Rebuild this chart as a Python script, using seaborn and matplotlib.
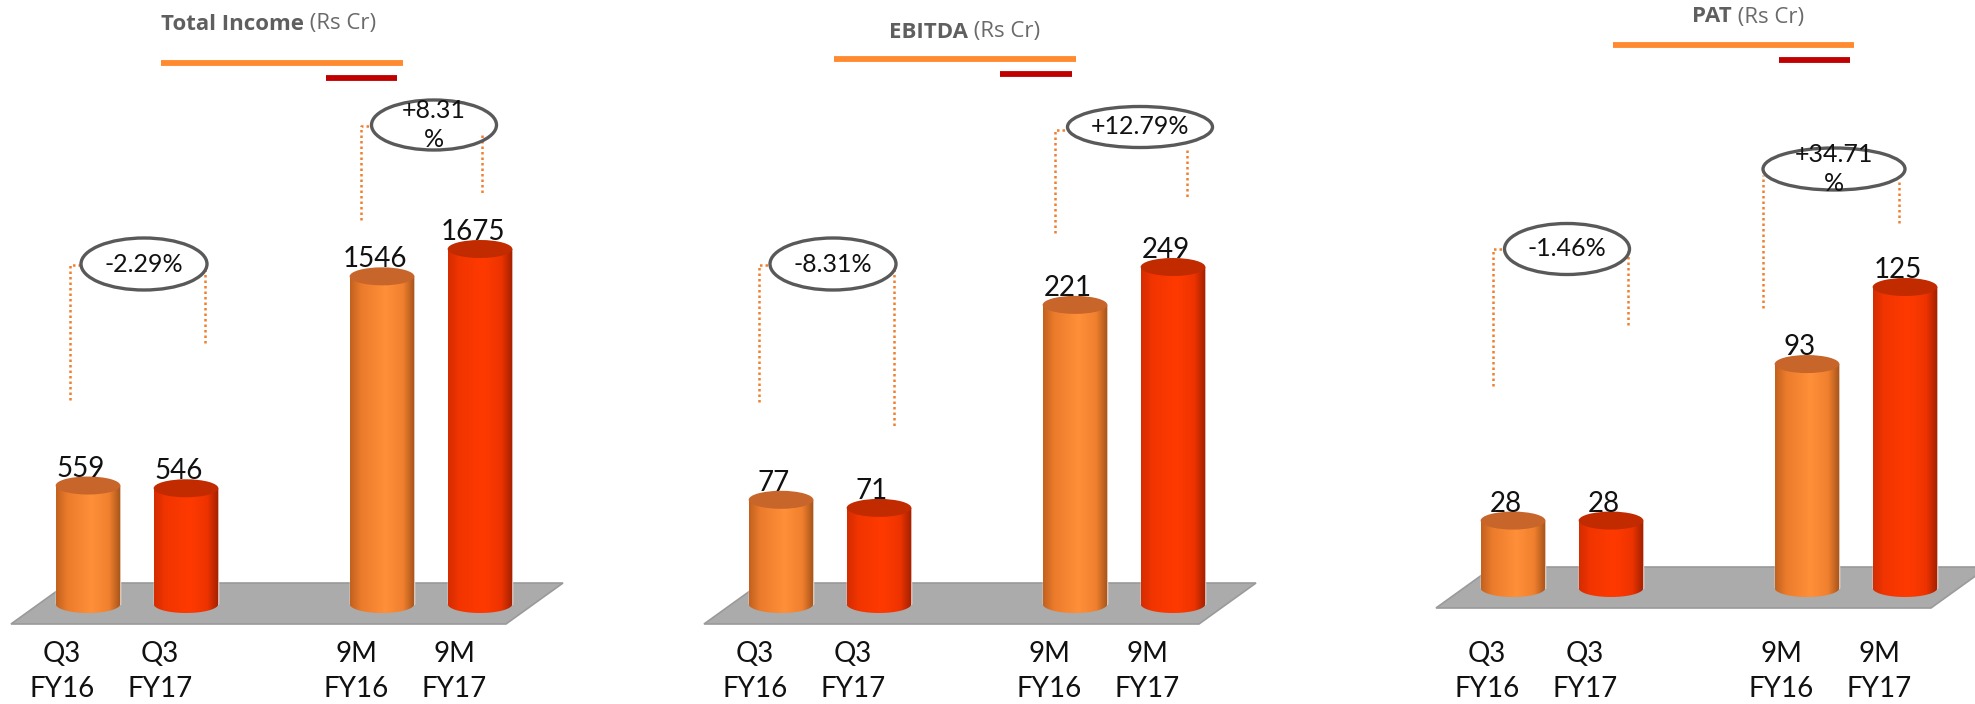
import numpy as np
import pandas as pd
import matplotlib
matplotlib.use("Agg")
import matplotlib.pyplot as plt
import matplotlib.transforms as mtransforms
from matplotlib.patches import Ellipse, Polygon
from matplotlib.lines import Line2D
from matplotlib.colors import LinearSegmentedColormap
import seaborn as sns

# ---------------- data ----------------
periods = ["Q3\nFY16", "Q3\nFY17", "9M\nFY16", "9M\nFY17"]
total_income = [559, 546, 1546, 1675]
ebitda = [77, 71, 221, 249]
pat = [28, 28, 93, 125]
metric_names = ["Total Income", "EBITDA", "PAT"]
unit_label = " (Rs Cr)"
q3_growth = ["-2.29%", "-8.31%", "-1.46%"]
nm_growth = ["+8.31\n%", "+12.79%", "+34.71\n%"]

series = [total_income, ebitda, pat]

# ---------------- style ----------------
sns.set_theme(style="white")
plt.rcParams["font.family"] = ["Lato", "DejaVu Sans"]

W, H = 1975, 704
fig = plt.figure(figsize=(W / 100, H / 100), dpi=100)
px = mtransforms.Affine2D().scale(1 / W, -1 / H).translate(0, 1) + fig.transFigure

palette = {"FY16": "#FF8A30", "FY17": "#FF3300"}
cmaps = {
    "FY16": LinearSegmentedColormap.from_list(
        "o", [(0, "#C2611E"), (0.18, "#EC7C2C"), (0.55, "#FF8F38"), (0.82, "#F0802E"), (1, "#A4521A")]),
    "FY17": LinearSegmentedColormap.from_list(
        "r", [(0, "#D42C00"), (0.18, "#F23500"), (0.55, "#FF3A00"), (0.82, "#EE3300"), (1, "#A02000")]),
}
top_colors = {"FY16": "#C7652A", "FY17": "#C22A00"}

order = [periods[0], periods[1], "", periods[2], periods[3]]

# per-panel layout (pixels)
unit_px = 98.0
first_bar_px = [88, 781, 1513]
base_px = [604, 604, 588]
max_top_px = [249, 267, 287]
ax_bottom_px = 630
xlim = (-0.9, 5.3)

titles_px = [(161, 24), (889, 32), (1692, 17)]
orange_line_px = [(161, 403, 63), (834, 1076, 59), (1613, 1854, 45)]
red_line_px = [(326, 397, 78), (1000, 1072, 74), (1779, 1850, 60)]

# ellipse annotations: (cx, cy, w, h, left_x, left_y0, left_y1, right_x, right_y0, right_y1)
ann_px = [
    [(144, 264, 126, 52, 70, 265, 400, 205, 269, 345),
     (434, 125, 125, 50, 361, 126, 220, 482, 135, 195)],
    [(833, 264, 126, 52, 759, 265, 402, 894, 269, 426),
     (1140, 127, 145, 41, 1055, 130, 233, 1187, 150, 197)],
    [(1567, 249, 125, 51, 1493, 249, 386, 1628, 251, 328),
     (1834, 169, 142, 42, 1763, 175, 308, 1899, 182, 224)],
]
growth_texts = list(zip(q3_growth, nm_growth))

grad = np.linspace(0, 1, 256).reshape(1, -1)

for i, values in enumerate(series):
    df = pd.DataFrame({"period": periods, "value": values})
    df["year"] = [p.split("\n")[1] for p in periods]

    left_px = first_bar_px[i] + xlim[0] * unit_px
    width_px = (xlim[1] - xlim[0]) * unit_px
    ax = fig.add_axes([left_px / W, 1 - ax_bottom_px / H, width_px / W, ax_bottom_px / H])

    scale = (base_px[i] - max_top_px[i]) / max(values)
    ylim = ((base_px[i] - ax_bottom_px) / scale, base_px[i] / scale)
    upp = 1.0 / scale  # data units per pixel

    sns.barplot(data=df, x="period", y="value", hue="year", order=order,
                palette=palette, dodge=False, width=0.66, legend=False,
                saturation=1, ax=ax, zorder=2)

    # floor
    fx0 = -77 / unit_px
    fx1 = 4 + 26 / unit_px
    sh = 57 / unit_px
    floor = Polygon([(fx0, -20 * upp), (fx1, -20 * upp), (fx1 + sh, 21 * upp), (fx0 + sh, 21 * upp)],
                    closed=True, facecolor="#ABABAB", edgecolor="#9A9A9A", lw=1.2, zorder=1)
    ax.add_patch(floor)

    ell_h = 18 * upp
    years = df["year"].tolist()
    bars = [p for p in ax.patches if p is not floor and p.get_height() != 0]
    bars = sorted(bars, key=lambda p: p.get_x())
    for bar, yr, val in zip(bars, years, values):
        x0 = bar.get_x()
        w = bar.get_width()
        h = bar.get_height()
        xc = x0 + w / 2
        t = np.linspace(0, np.pi, 60)
        verts = [(x0, h), (x0 + w, h)] + list(zip(xc + (w / 2) * np.cos(t), -(ell_h / 2) * np.sin(t)))
        clip = Polygon(verts, closed=True, transform=ax.transData, facecolor="none", edgecolor="none")
        im = ax.imshow(grad, extent=[x0, x0 + w, -ell_h / 2, h], aspect="auto",
                       cmap=cmaps[yr], interpolation="bicubic", zorder=3)
        im.set_clip_path(clip)
        ax.add_patch(Ellipse((xc, h), w, ell_h, facecolor=top_colors[yr], edgecolor="none", zorder=4))
        ax.annotate(f"{val}", xy=(xc, h), xytext=(-7, 9), textcoords="offset pixels",
                    ha="center", va="baseline", fontsize=20, color="#111111", zorder=6)

    ax.set_xlim(*xlim)
    ax.set_ylim(*ylim)
    ax.set_xlabel("")
    ax.set_ylabel("")
    ax.set_yticks([])
    for s in ax.spines.values():
        s.set_visible(False)
    ax.tick_params(axis="x", length=0, pad=8, labelsize=20, labelcolor="#111111")
    off = mtransforms.ScaledTranslation(-26 / 100, 0, fig.dpi_scale_trans)
    for lab in ax.get_xticklabels():
        lab.set_transform(lab.get_transform() + off)
        lab.set_linespacing(1.4)
    ax.patch.set_alpha(0)

    # title
    tx, ty = titles_px[i]
    tt = fig.text(tx, ty, metric_names[i], transform=px, fontsize=16, fontweight="bold",
                  color="#5F5F5F", ha="left", va="center", family=["Open Sans", "DejaVu Sans"])
    fig.add_artist(matplotlib.text.Annotation(unit_label, xy=(1, 0.5), xycoords=tt, va="center",
                                              ha="left", fontsize=16, color="#6A6A6A",
                                              family=["Open Sans", "DejaVu Sans"]))
    ox0, ox1, oy = orange_line_px[i]
    fig.add_artist(Line2D([ox0, ox1], [oy, oy], transform=px, color="#FF8A30", lw=4.2,
                          solid_capstyle="butt"))
    rx0, rx1, ry = red_line_px[i]
    fig.add_artist(Line2D([rx0, rx1], [ry, ry], transform=px, color="#C00000", lw=4.2,
                          solid_capstyle="butt"))

    # growth ellipses + dotted brackets
    for (cx, cy, ew, eh, lx, ly0, ly1, rx, ry0, ry1), txt in zip(ann_px[i], growth_texts[i]):
        fig.add_artist(Line2D([lx, lx, cx - ew / 2], [ly1, ly0, ly0], transform=px, color="#F08030",
                              lw=1.8, linestyle=(0, (1, 1.2)), zorder=7))
        fig.add_artist(Line2D([rx, rx], [ry0, ry1], transform=px, color="#F08030",
                              lw=1.8, linestyle=(0, (1, 1.2)), zorder=7))
        fig.add_artist(Ellipse((cx, cy), ew, eh, transform=px, facecolor="none",
                               edgecolor="#595959", lw=2.4, zorder=8))
        fig.text(cx, cy, txt, transform=px, ha="center", va="center", fontsize=18,
                 color="#111111", linespacing=1.3, zorder=9)

fig.savefig("out.png", dpi=100)
